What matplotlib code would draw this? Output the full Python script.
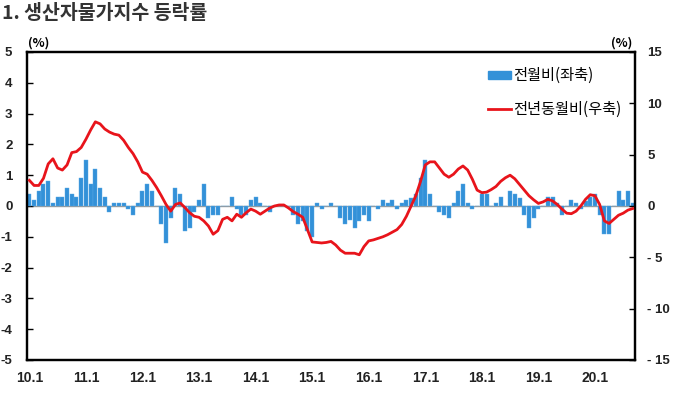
import numpy as np
import matplotlib
matplotlib.use("Agg")
import matplotlib.pyplot as plt
from matplotlib.patches import Patch
from matplotlib.lines import Line2D

plt.rcParams['font.family'] = ['Noto Sans CJK KR', 'DejaVu Sans']

# 생산자물가지수 등락률 (2010.1 ~ 2020.9, 월별)
# 전월비 (좌축, %)
mom = [0.4, 0.2, 0.5, 0.7, 0.8, 0.1, 0.3, 0.3, 0.6, 0.4, 0.3, 0.9,
       1.5, 0.7, 1.2, 0.6, 0.3, -0.2, 0.1, 0.1, 0.1, -0.1, -0.3, 0.1,
       0.5, 0.7, 0.5, 0.0, -0.6, -1.2, -0.4, 0.6, 0.4, -0.8, -0.7, -0.2,
       0.2, 0.7, -0.4, -0.3, -0.3, 0.0, 0.0, 0.3, -0.1, -0.3, -0.3, 0.2,
       0.3, 0.1, 0.0, -0.2, 0.0, 0.0, 0.0, 0.0, -0.3, -0.6, -0.5, -0.8,
       -1.0, 0.1, -0.1, 0.0, 0.1, 0.0, -0.4, -0.6, -0.45, -0.7, -0.5, -0.3,
       -0.5, 0.0, -0.1, 0.2, 0.1, 0.2, -0.1, 0.1, 0.2, 0.25, 0.4, 0.9,
       1.5, 0.4, 0.0, -0.2, -0.3, -0.4, 0.1, 0.5, 0.7, 0.1, -0.1, 0.0,
       0.4, 0.4, 0.0, 0.1, 0.3, 0.0, 0.5, 0.4, 0.25, -0.3, -0.7, -0.4,
       -0.1, 0.0, 0.3, 0.3, 0.1, -0.3, 0.0, 0.2, 0.1, -0.1, 0.15, 0.3,
       0.4, -0.3, -0.9, -0.9, 0.0, 0.5, 0.2, 0.5, 0.1]

# 전년동월비 (우축, %)
yoy = [2.5, 2.0, 2.0, 2.7, 4.1, 4.6, 3.7, 3.5, 4.0, 5.2, 5.3, 5.7,
       6.5, 7.4, 8.2, 8.0, 7.5, 7.2, 7.0, 6.9, 6.4, 5.7, 5.1, 4.3,
       3.3, 3.1, 2.5, 1.8, 1.0, 0.15, -0.5, 0.15, 0.3, -0.15, -0.65, -1.0,
       -1.1, -1.45, -1.95, -2.75, -2.4, -1.3, -1.1, -1.45, -0.8, -1.1, -0.65, -0.3,
       -0.5, -0.8, -0.5, -0.2, 0.0, 0.1, 0.1, -0.2, -0.55, -0.8, -1.1, -2.3,
       -3.5, -3.55, -3.6, -3.55, -3.45, -3.8, -4.3, -4.6, -4.6, -4.6, -4.75, -3.95,
       -3.4, -3.3, -3.15, -3.0, -2.8, -2.55, -2.3, -1.8, -1.0, 0.0, 1.0, 2.4,
       4.0, 4.3, 4.3, 3.7, 3.1, 2.8, 3.1, 3.6, 3.9, 3.5, 2.6, 1.55,
       1.3, 1.35, 1.6, 1.9, 2.4, 2.75, 3.0, 2.65, 2.1, 1.55, 1.0, 0.6,
       0.25, 0.4, 0.65, 0.5, 0.15, -0.3, -0.7, -0.75, -0.5, 0.0, 0.65, 1.1,
       1.0, 0.15, -1.45, -1.7, -1.3, -0.9, -0.7, -0.4, -0.25]

xlabels = ['10.1', '11.1', '12.1', '13.1', '14.1', '15.1', '16.1',
           '17.1', '18.1', '19.1', '20.1']
left_ticks = [5, 4, 3, 2, 1, 0, -1, -2, -3, -4, -5]
right_ticks = [15, 10, 5, 0, -5, -10, -15]
right_labels = ['15', '10', '5', '0', '- 5', '- 10', '- 15']

x = np.arange(len(mom))

fig = plt.figure(figsize=(6.8, 3.99), dpi=100)
ax = fig.add_axes([27 / 680, 1 - 360 / 399, 608 / 680, 308 / 399])
ax2 = ax.twinx()

# 막대 (전월비)
ax.bar(x, mom, width=0.85, color='#3391d8', edgecolor='#5aa9e6', linewidth=0.3, zorder=2)
ax.axhline(0, color='#999999', linewidth=1, zorder=1)
ax.set_ylim(-5, 5)
ax.set_xlim(-0.5, len(mom) - 0.5)
ax.set_yticks(left_ticks)
ax.set_yticklabels([str(t) for t in left_ticks])

# 선 (전년동월비)
ax2.plot(x, yoy, color='#e8141b', linewidth=2, zorder=3)
ax2.set_ylim(-15, 15)
ax2.set_yticks(right_ticks)
ax2.set_yticklabels(right_labels)

ax.set_xticks(np.arange(0, 121, 12))
ax.set_xticklabels(xlabels)

for a in (ax, ax2):
    for s in a.spines.values():
        s.set_linewidth(1.6)
        s.set_color('black')
ax.tick_params(axis='y', direction='in', length=4, width=1, pad=10.5)
ax2.tick_params(axis='y', direction='in', length=4, width=1, pad=9)
ax.tick_params(axis='x', length=0, pad=8)

tick_font = dict(family='Liberation Sans', weight='bold', size=9.5)
for lab in ax.get_yticklabels() + ax.get_xticklabels() + ax2.get_yticklabels():
    lab.set_fontproperties(matplotlib.font_manager.FontProperties(**tick_font))
    lab.set_color('#222222')
for lab in ax.get_xticklabels():
    lab.set_fontsize(10)

# 범례
handles = [Patch(color='#3391d8'), Line2D([0], [0], color='#e8141b', lw=2)]
ax2.legend(handles, ['전월비(좌축)', '전년동월비(우축)'], loc='upper right',
           bbox_to_anchor=(1.0, 0.995), frameon=False, fontsize=11,
           handlelength=1.5, handleheight=0.5, handletextpad=0.15, labelspacing=1.1)

# 제목, 단위
fig.text(0.003, 0.99, '1. 생산자물가지수 등락률', fontsize=14, weight='bold',
         color='#333333', va='top', ha='left')
fig.text(28 / 680, 1 - 43 / 399, '(%)', fontsize=9, weight='bold', ha='left', va='center')
fig.text(632 / 680, 1 - 43 / 399, '(%)', fontsize=9, weight='bold', ha='right', va='center')

plt.savefig('out.png', dpi=100)
